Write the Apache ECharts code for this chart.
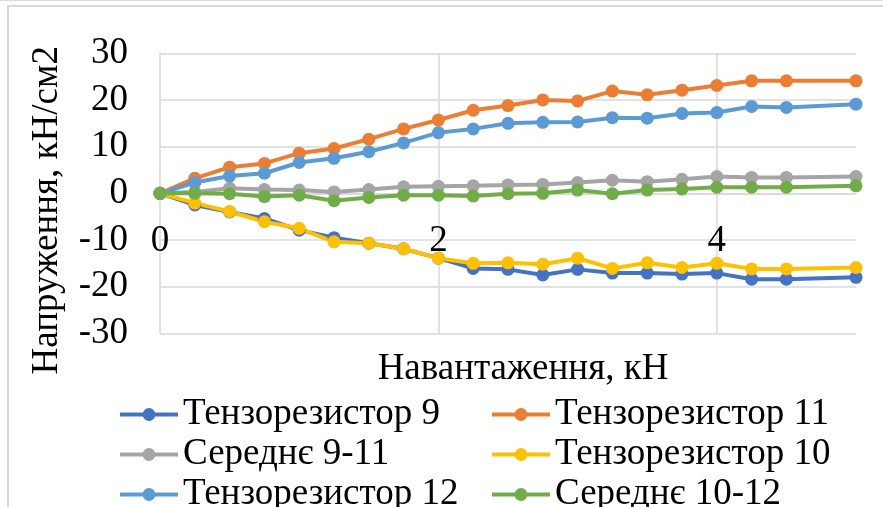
<!DOCTYPE html>
<html>
<head>
<meta charset="utf-8">
<script src="https://cdn.jsdelivr.net/npm/echarts@6/dist/echarts.min.js"></script>
<style>html,body{margin:0;padding:0;background:#fff}#c{width:883px;height:507px}</style>
</head>
<body>
<div id="c"></div>
<script>
const loads = [0,0.25,0.5,0.75,1,1.25,1.5,1.75,2,2.25,2.5,2.75,3,3.25,3.5,3.75,4,4.25,4.5,5];
const t9  = [0,-2.5,-4.0,-5.4,-7.9,-9.5,-10.7,-11.9,-13.9,-16.1,-16.3,-17.5,-16.3,-17.1,-17.1,-17.3,-17.1,-18.4,-18.4,-18.0];
const t11 = [0,3.2,5.6,6.4,8.6,9.6,11.6,13.8,15.7,17.8,18.8,20.0,19.8,21.9,21.1,22.1,23.1,24.1,24.1,24.1];
const avg9_11 = [0,0.3,1.1,0.8,0.7,0.3,0.8,1.4,1.5,1.6,1.8,1.9,2.3,2.8,2.5,3.0,3.6,3.4,3.4,3.6];
const t10 = [0,-2.1,-3.9,-6.1,-7.5,-10.4,-10.7,-11.9,-13.9,-15.0,-14.9,-15.2,-13.9,-16.1,-14.9,-15.9,-15.0,-16.2,-16.2,-15.9];
const t12 = [0,2.3,3.7,4.3,6.6,7.5,8.9,10.8,13.0,13.8,15.0,15.2,15.3,16.2,16.1,17.1,17.3,18.6,18.4,19.1];
const avg10_12 = [0,0,-0.1,-0.7,-0.4,-1.6,-0.9,-0.4,-0.4,-0.6,-0.1,0,0.7,-0.1,0.7,0.9,1.3,1.3,1.3,1.6];

const seriesNames = ['Тензорезистор 9','Тензорезистор 11','Середнє 9-11','Тензорезистор 10','Тензорезистор 12','Середнє 10-12'];
const seriesData = [t9, t11, avg9_11, t10, t12, avg10_12];
const colors = ['#4472C4','#ED7D31','#A5A5A5','#FFC000','#5B9BD5','#70AD47'];
const xTicks = [0,2,4];
const yTicks = [-30,-20,-10,0,10,20,30];

const FONT = "'Liberation Serif','Times New Roman',serif";
const chart = echarts.init(document.getElementById('c'), null, {renderer:'canvas'});
const legendCommon = {
  orient:'vertical', itemWidth:58, itemHeight:16, itemGap:3, padding:0, height:200,
  lineStyle:{width:4},
  textStyle:{fontFamily:FONT, fontSize:37, color:'#000'}
};
chart.setOption({
  animation:false,
  color: colors,
  graphic:[
    {type:'rect', shape:{x:8, y:6, width:900, height:520}, style:{fill:'none', stroke:'#d9d9d9', lineWidth:2}, silent:true},
    {type:'line', shape:{x1:0,y1:0.5,x2:883,y2:0.5}, style:{stroke:'#d9d9d9', lineWidth:1}, silent:true}
  ],
  grid:{left:160, top:53.3, width:696, height:280, containLabel:false, outerBoundsMode:'none'},
  xAxis:{
    type:'value', min:xTicks[0], max:5, interval:2,
    offset:-140,
    name:'Навантаження, кН', nameLocation:'middle', nameGap:157,
    nameTextStyle:{fontFamily:FONT, fontSize:37, color:'#000', padding:[0,0,0,30]},
    axisLine:{onZero:false, lineStyle:{color:'#d9d9d9', width:1.5}},
    axisTick:{show:false},
    axisLabel:{fontFamily:FONT, fontSize:37, color:'#000', margin:29, showMaxLabel:false,
      formatter: v => xTicks.indexOf(v) >= 0 ? String(v) : ''},
    splitLine:{show:true, showMinLine:false, showMaxLine:false, lineStyle:{color:'#d9d9d9', width:1.5}}
  },
  yAxis:{
    type:'value', min:yTicks[0], max:yTicks[yTicks.length-1], interval:10,
    name:'Напруження, кН/см2', nameLocation:'middle', nameGap:94, nameRotate:90,
    nameTextStyle:{fontFamily:FONT, fontSize:37, color:'#000', padding:[0,34,0,0]},
    axisLine:{show:true, onZero:false, lineStyle:{color:'#d9d9d9', width:1.5}},
    axisTick:{show:false},
    axisLabel:{fontFamily:FONT, fontSize:37, color:'#000', margin:32},
    splitLine:{show:true, lineStyle:{color:'#d9d9d9', width:1.5}}
  },
  legend:[
    Object.assign({left:118, top:396, data:[seriesNames[0], seriesNames[2], seriesNames[4]]}, legendCommon),
    Object.assign({left:490, top:396, data:[seriesNames[1], seriesNames[3], seriesNames[5]]}, legendCommon)
  ],
  series: seriesNames.map((n,i)=>({
    name:n, type:'line', data: loads.map((x,j)=>[x, seriesData[i][j]]),
    symbol:'circle', symbolSize:13, showSymbol:true,
    lineStyle:{width:4, color:colors[i]}, itemStyle:{color:colors[i]},
    emphasis:{disabled:true}
  }))
});
</script>
</body>
</html>
